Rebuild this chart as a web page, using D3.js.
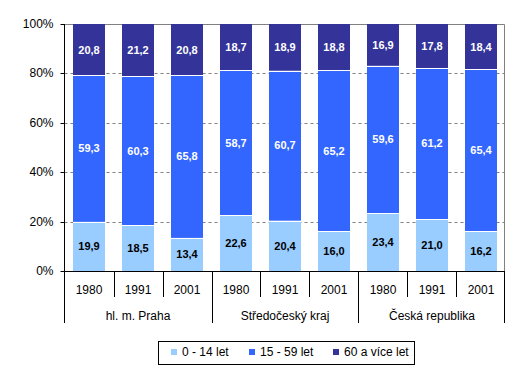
<!DOCTYPE html>
<html>
<head>
<meta charset="utf-8">
<script src="https://cdn.jsdelivr.net/npm/d3@7.9.0/dist/d3.min.js"></script>
<style>
  body { margin: 0; background: #fff; }
  svg { font-family: "Liberation Sans", Arial, sans-serif; }
</style>
</head>
<body>
<svg id="chart" width="521" height="373"></svg>
<script>
// data
const regions = ['hl. m. Praha', 'Středočeský kraj', 'Česká republika'];
const years = ['1980', '1991', '2001'];
const young = [19.9, 18.5, 13.4, 22.6, 20.4, 16.0, 23.4, 21.0, 16.2];
const middle = [59.3, 60.3, 65.8, 58.7, 60.7, 65.2, 59.6, 61.2, 65.4];
const old = [20.8, 21.2, 20.8, 18.7, 18.9, 18.8, 16.9, 17.8, 18.4];
const seriesNames = ['0 - 14 let', '15 - 59 let', '60 a více let'];
const colors = ['#99ccff', '#3366ff', '#333399'];
const yTicks = [0, 0.2, 0.4, 0.6, 0.8, 1];

const rows = [];
regions.forEach((r, gi) => {
    years.forEach((yr, yi) => {
        const i = gi * years.length + yi;
        rows.push({ key: i, region: r, year: yr, s0: young[i], s1: middle[i], s2: old[i] });
    });
});

const svg = d3.select('#chart');
const plotL = 64.5, plotR = 504.5, plotT = 24, plotB = 271;

const x = d3.scaleBand()
    .domain(rows.map(d => d.key))
    .range([plotL, plotR + 1])
    .paddingInner(0.347)
    .paddingOuter(0.1735);
const step = x.step();

const y = d3.scaleLinear().domain([0, 1]).range([plotB, plotT]);

const stack = d3.stack().keys(['s0', 's1', 's2']).offset(d3.stackOffsetExpand);
const layers = stack(rows);

// gridlines
svg.append('g')
    .selectAll('line')
    .data(yTicks.filter(t => t > 0 && t < 1))
    .join('line')
    .attr('x1', plotL).attr('x2', plotR)
    .attr('y1', d => Math.round(y(d)) + 0.5).attr('y2', d => Math.round(y(d)) + 0.5)
    .attr('stroke', '#808080')
    .attr('stroke-dasharray', '3,3');

// plot border top + right (gray)
svg.append('path')
    .attr('d', `M${plotL},${plotT + 0.5}H${plotR}V${plotB}`)
    .attr('fill', 'none')
    .attr('stroke', '#808080');

// bars
const gBars = svg.append('g');
layers.forEach((layer, li) => {
    gBars.append('g')
        .selectAll('rect')
        .data(layer)
        .join('rect')
        .attr('x', d => Math.round(x(d.data.key)))
        .attr('width', Math.round(x.bandwidth()))
        .attr('y', d => y(d[1]))
        .attr('height', d => y(d[0]) - y(d[1]))
        .attr('fill', colors[li]);
});
// white separators between segments
layers.slice(0, 2).forEach(layer => {
    gBars.append('g')
        .selectAll('line')
        .data(layer)
        .join('line')
        .attr('x1', d => Math.round(x(d.data.key)))
        .attr('x2', d => Math.round(x(d.data.key)) + Math.round(x.bandwidth()))
        .attr('y1', d => Math.round(y(d[1])) + 0.5)
        .attr('y2', d => Math.round(y(d[1])) + 0.5)
        .attr('stroke', '#fff');
});

// value labels
layers.forEach((layer, li) => {
    svg.append('g')
        .selectAll('text')
        .data(layer)
        .join('text')
        .attr('x', d => x(d.data.key) + x.bandwidth() / 2)
        .attr('y', d => (y(d[0]) + y(d[1])) / 2)
        .attr('dy', '0.35em')
        .attr('text-anchor', 'middle')
        .attr('font-size', 11)
        .attr('font-weight', 'bold')
        .attr('fill', li === 0 ? '#000' : '#fff')
        .text(d => d.data['s' + li].toFixed(1).replace('.', ','));
});

// y axis
const yAxis = d3.axisLeft(y)
    .tickValues(yTicks)
    .tickFormat(d => Math.round(d * 100) + '%')
    .tickSize(4)
    .tickPadding(7);
const gy = svg.append('g').attr('transform', `translate(${plotL},0)`).call(yAxis);
gy.select('.domain').remove();
gy.selectAll('line').attr('stroke', '#000');
gy.selectAll('text').attr('font-size', 12).attr('fill', '#000').attr('font-family', '"Liberation Sans", Arial, sans-serif');
gy.selectAll('.tick').attr('transform', d => `translate(0,${Math.round(y(d)) + 0.5})`);

// axis lines
svg.append('line').attr('x1', plotL).attr('x2', plotL).attr('y1', plotT).attr('y2', 323).attr('stroke', '#000');
svg.append('line').attr('x1', plotL).attr('x2', plotR).attr('y1', plotB + 0.5).attr('y2', plotB + 0.5).attr('stroke', '#000');
svg.append('line').attr('x1', plotR).attr('x2', plotR).attr('y1', plotB).attr('y2', 323).attr('stroke', '#000');

// category separators
const gx = svg.append('g');
rows.slice(1).forEach(d => {
    const xs = Math.round(x(d.key) - x.step() * x.paddingInner() / 2) + 0.5;
    const isGroup = d.key % years.length === 0;
    gx.append('line')
        .attr('x1', xs).attr('x2', xs)
        .attr('y1', plotB)
        .attr('y2', isGroup ? 323 : 297)
        .attr('stroke', '#000');
});
gx.selectAll('text.year')
    .data(rows)
    .join('text')
    .attr('class', 'year')
    .attr('x', d => x(d.key) + x.bandwidth() / 2)
    .attr('y', 290)
    .attr('dy', '0.35em')
    .attr('text-anchor', 'middle')
    .attr('font-size', 12)
    .text(d => d.year);
gx.selectAll('text.region')
    .data(regions)
    .join('text')
    .attr('class', 'region')
    .attr('x', (d, i) => plotL + step * years.length * (i + 0.5))
    .attr('y', 316)
    .attr('dy', '0.35em')
    .attr('text-anchor', 'middle')
    .attr('font-size', 12)
    .text(d => d);

// legend
const legend = svg.append('g');
legend.append('rect')
    .attr('x', 158.5).attr('y', 341.5)
    .attr('width', 256).attr('height', 23)
    .attr('fill', '#fff').attr('stroke', '#000');
const legendX = [171, 249, 333];
seriesNames.forEach((name, i) => {
    legend.append('rect')
        .attr('x', legendX[i]).attr('y', 349)
        .attr('width', 6).attr('height', 6)
        .attr('fill', colors[i]);
    legend.append('text')
        .attr('x', legendX[i] + 11)
        .attr('y', 352)
        .attr('dy', '0.35em')
        .attr('font-size', 12)
        .text(name);
});
</script>
</body>
</html>
